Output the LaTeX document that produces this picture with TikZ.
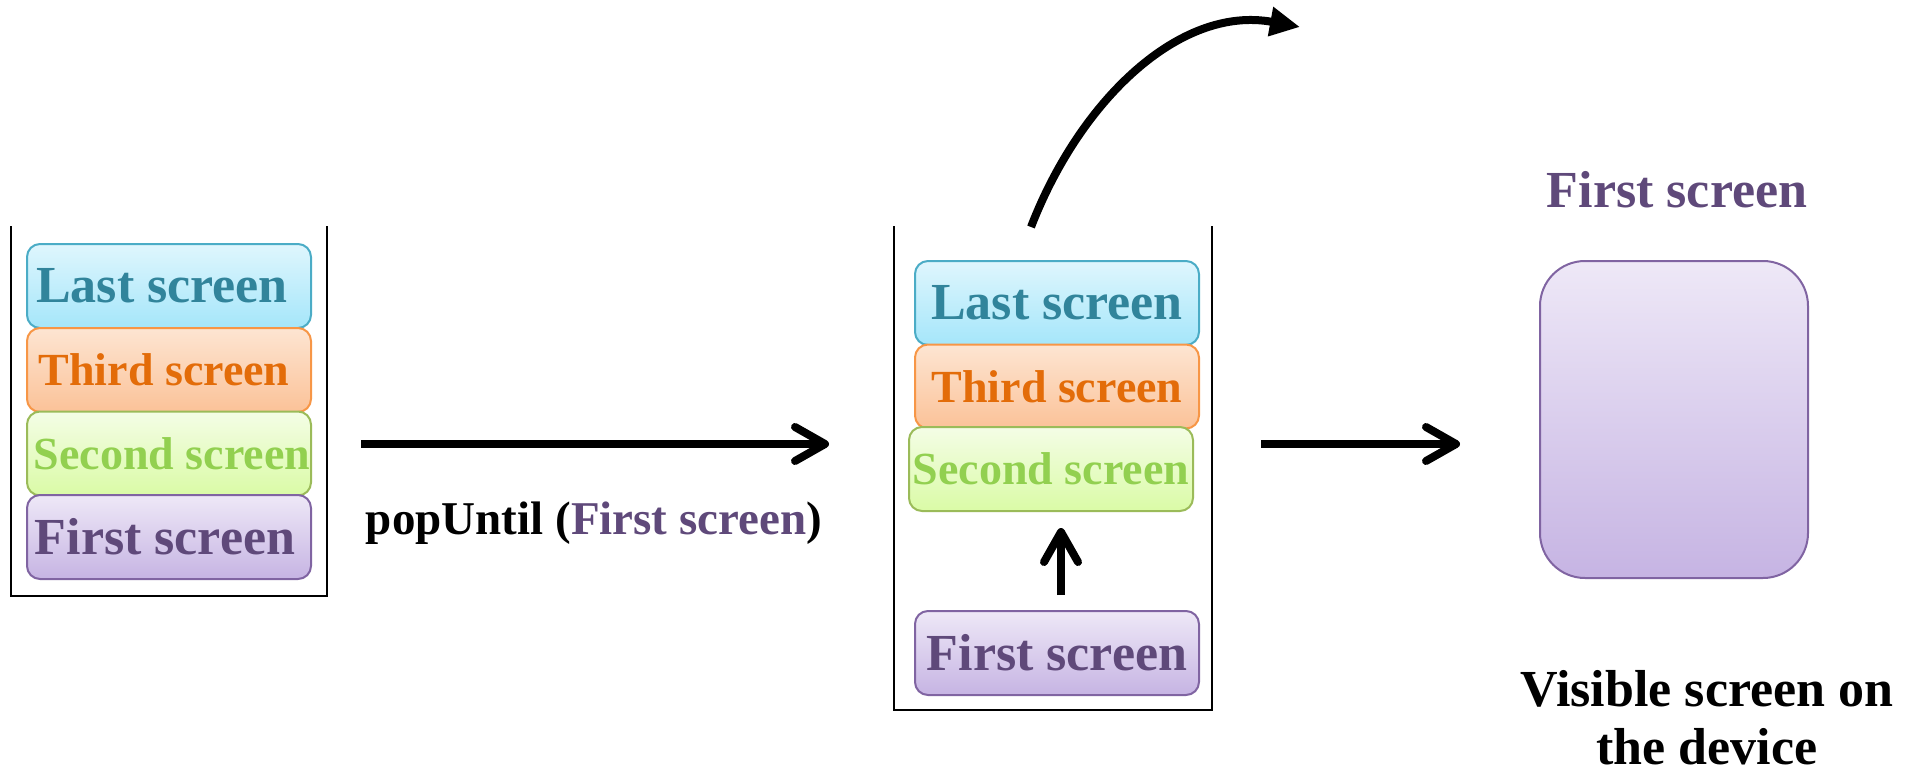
\documentclass[tikz,border=0pt]{standalone}
\usepackage{fontspec}
\setmainfont{Liberation Serif}
\usetikzlibrary{arrows.meta}
\definecolor{bluebd}{HTML}{4BACC6}
\definecolor{bluetx}{HTML}{31849B}
\definecolor{bluetop}{HTML}{DFF6FD}
\definecolor{bluebot}{HTML}{A5E6FA}
\definecolor{orabd}{HTML}{F79646}
\definecolor{oratx}{HTML}{E36C09}
\definecolor{oratop}{HTML}{FDE5D2}
\definecolor{orabot}{HTML}{FBC298}
\definecolor{grnbd}{HTML}{9BBB59}
\definecolor{grntx}{HTML}{92D050}
\definecolor{grntop}{HTML}{F4FDE6}
\definecolor{grnbot}{HTML}{DAFBA6}
\definecolor{purbd}{HTML}{8064A2}
\definecolor{purtx}{HTML}{5F497A}
\definecolor{purtop}{HTML}{EEE8F7}
\definecolor{purbot}{HTML}{C6B4E3}
\tikzset{
  scrbox/.style={draw, rounded corners=13pt, line width=2pt, minimum width=284pt,
    minimum height=84pt, inner sep=0pt},
  bigtxt/.style={font=\fontsize{52pt}{58pt}\selectfont\bfseries},
  midtxt/.style={font=\fontsize{46pt}{52pt}\selectfont\bfseries},
  lastbox/.style={scrbox, bigtxt, draw=bluebd, top color=bluetop, bottom color=bluebot, text=bluetx},
  thirdbox/.style={scrbox, midtxt, draw=orabd, top color=oratop, bottom color=orabot, text=oratx},
  secondbox/.style={scrbox, midtxt, draw=grnbd, top color=grntop, bottom color=grnbot, text=grntx},
  firstbox/.style={scrbox, bigtxt, draw=purbd, top color=purtop, bottom color=purbot, text=purtx},
  container/.style={draw=black, line width=2.5pt},
  barrow/.style={line width=8pt, -{Straight Barb[length=30pt,width=34pt,line cap=round,line join=round]}},
  carrow/.style={line width=8pt, -{Triangle[length=30pt,width=28pt]}},
}
\newcommand{\mk}[1]{\makebox[0pt]{#1}}
\begin{document}
\begin{tikzpicture}[x=1pt,y=-1pt]
\useasboundingbox (0,0) rectangle (1919,771);
% left stack
\draw[container] (11,226) -- (11,596) -- (327,596) -- (327,226);
\node[lastbox]   (l4) at (169,286)   {\mk{\hspace{-14pt}Last screen}};
\node[thirdbox]  (l3) at (169,370)   {\mk{\hspace{-10pt}Third screen}};
\node[secondbox] (l2) at (169,453.5) {\mk{\hspace{6pt}Second screen}};
\node[firstbox]  (l1) at (169,537)   {\mk{\hspace{-8pt}First screen}};
% first arrow
\coordinate (a1s) at (361,444);
\coordinate (a1e) at (829,444);
\draw[barrow] (a1s) -- (a1e);
\node[font=\fontsize{47pt}{52pt}\selectfont\bfseries] (lbl) at (594,523)
  {popUntil (\textcolor{purtx}{First screen})};
% middle stack
\draw[container] (894,226) -- (894,710) -- (1212,710) -- (1212,226);
\node[lastbox]   (m4) at (1057,303)   {\mk{Last screen}};
\node[thirdbox]  (m3) at (1057,386.5) {\mk{Third screen}};
\node[secondbox] (m2) at (1051,469)   {\mk{Second screen}};
\node[firstbox]  (m1) at (1057,653)   {\mk{First screen}};
\coordinate (us) at (1061,595);
\coordinate (ue) at (1061,528);
\draw[barrow] (us) -- (ue);
\coordinate (cs) at (1031,227);
\coordinate (ce) at (1300,27);
\draw[carrow] (cs) .. controls (1080,100) and (1180,5) .. (ce);
% second arrow
\coordinate (a2s) at (1261,444);
\coordinate (a2e) at (1460,444);
\draw[barrow] (a2s) -- (a2e);
% right: visible screen
\node[bigtxt, text=purtx] (vt) at (1677,190) {First screen};
\node[draw=purbd, line width=2pt, rounded corners=45pt, top color=purtop, bottom color=purbot,
  minimum width=268pt, minimum height=317pt, inner sep=0pt] (vs) at (1674,419.5) {};
\node[bigtxt, align=center, inner sep=0pt] (vl) at (1707,718) {Visible screen on\\the device};
\end{tikzpicture}
\end{document}
